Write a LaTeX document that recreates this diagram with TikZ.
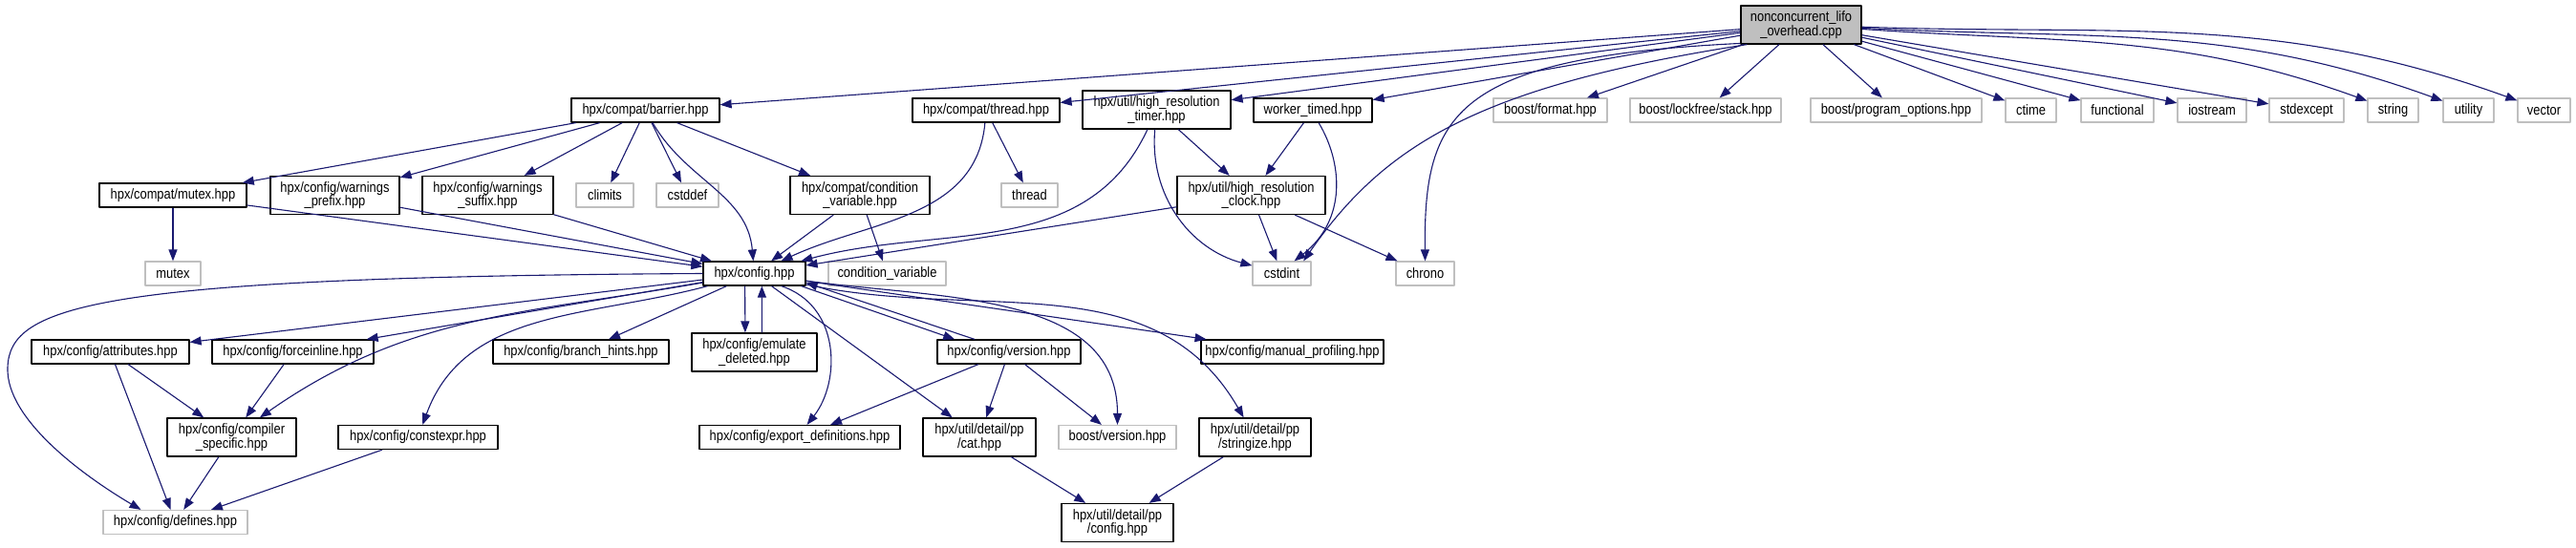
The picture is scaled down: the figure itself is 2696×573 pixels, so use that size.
\documentclass[tikz,border=0pt]{standalone}
\usepackage{fontspec}
\usepackage{tikz}
\usetikzlibrary{arrows.meta}
\newfontfamily\graphfont[FakeStretch=0.86]{Liberation Sans}
\definecolor{depblue}{RGB}{25,25,112}
\definecolor{sysgray}{RGB}{191,191,191}

\begin{document}
\begin{tikzpicture}[x=1pt,y=1pt,>={Triangle[length=12pt,width=9pt]},line join=round,
 hdr/.style={draw=black,fill=white,line width=1.2pt,minimum height=25pt,inner sep=1pt,
  align=center,font=\graphfont\fontsize{15}{14.5}\selectfont},
 sys/.style={hdr,draw=sysgray},
 twoline/.style={minimum height=40pt},
 dep/.style={->,depblue,line width=1.1pt}]
% Graf dolaczanych naglowkow dla nonconcurrent_lifo_overhead.cpp.
\fill[white] (0,0) rectangle (2696,-573);
\useasboundingbox (0,0) rectangle (2696,-573);
\node[hdr,fill=sysgray,twoline,minimum width=126pt] (lifo) at (1885,-26)
 {nonconcurrent\_lifo\\\_overhead.cpp};
\node[hdr,minimum width=155pt] (barrier) at (675.5,-115.5) {hpx/compat/barrier.hpp};
\node[hdr,minimum width=154pt] (cthread) at (1032,-115.5) {hpx/compat/thread.hpp};
\node[hdr,twoline,minimum width=155pt] (hrtimer) at (1210.5,-115)
 {hpx/util/high\_resolution\\\_timer.hpp};
\node[hdr,minimum width=124pt] (worker) at (1374,-115.5) {worker\_timed.hpp};
\node[sys,minimum width=119pt] (bformat) at (1622.5,-115.5) {boost/format.hpp};
\node[sys,minimum width=158pt] (bstack) at (1785,-115.5) {boost/lockfree/stack.hpp};
\node[sys,minimum width=179pt] (bpo) at (1984.5,-115.5) {boost/program\_options.hpp};
\node[sys,minimum width=53pt] (ctime) at (2125.5,-115.5) {ctime};
\node[sys,minimum width=76pt] (functional) at (2216,-115.5) {functional};
\node[sys,minimum width=72pt] (iostream) at (2315,-115.5) {iostream};
\node[sys,minimum width=78pt] (stdexcept) at (2414,-115.5) {stdexcept};
\node[sys,minimum width=53pt] (string) at (2504.5,-115.5) {string};
\node[sys,minimum width=53pt] (utility) at (2583.5,-115.5) {utility};
\node[sys,minimum width=55pt] (vector) at (2662.5,-115.5) {vector};

\node[hdr,minimum width=154pt] (cmutex) at (181,-204.5) {hpx/compat/mutex.hpp};
\node[hdr,twoline,minimum width=135pt] (wprefix) at (350.5,-204.5)
 {hpx/config/warnings\\\_prefix.hpp};
\node[hdr,twoline,minimum width=137pt] (wsuffix) at (510.5,-204.5)
 {hpx/config/warnings\\\_suffix.hpp};
\node[sys,minimum width=60pt] (climits) at (633,-204.5) {climits};
\node[sys,minimum width=65pt] (cstddef) at (719.5,-204.5) {cstddef};
\node[hdr,twoline,minimum width=146pt] (ccondvar) at (900,-204.5)
 {hpx/compat/condition\\\_variable.hpp};
\node[sys,minimum width=59pt] (thread) at (1077.5,-204.5) {thread};
\node[hdr,twoline,minimum width=155pt] (hrclock) at (1309.5,-204.5)
 {hpx/util/high\_resolution\\\_clock.hpp};

\node[sys,minimum width=58pt] (mutex) at (181,-286.5) {mutex};
\node[hdr,minimum width=107pt] (config) at (789.5,-286.5) {hpx/config.hpp};
\node[sys,minimum width=123pt] (condvar) at (928.5,-286.5) {condition\_variable};
\node[sys,minimum width=61pt] (cstdint) at (1341.5,-286.5) {cstdint};
\node[sys,minimum width=61pt] (chrono) at (1491.5,-286.5) {chrono};

\node[hdr,minimum width=165pt] (attributes) at (115.5,-368.5) {hpx/config/attributes.hpp};
\node[hdr,minimum width=169pt] (forceinline) at (306.5,-368.5) {hpx/config/forceinline.hpp};
\node[hdr,minimum width=184pt] (branch) at (608,-368.5) {hpx/config/branch\_hints.hpp};
\node[hdr,twoline,minimum width=131pt] (emulate) at (789.5,-369)
 {hpx/config/emulate\\\_deleted.hpp};
\node[hdr,minimum width=150pt] (version) at (1056,-368.5) {hpx/config/version.hpp};
\node[hdr,minimum width=191pt] (profiling) at (1352.5,-368.5)
 {hpx/config/manual\_profiling.hpp};

\node[hdr,twoline,minimum width=135pt] (compiler) at (242.5,-458)
 {hpx/config/compiler\\\_specific.hpp};
\node[hdr,minimum width=167pt] (constexpr) at (437.5,-458) {hpx/config/constexpr.hpp};
\node[hdr,minimum width=210pt] (exportdef) at (837,-458)
 {hpx/config/export\_definitions.hpp};
\node[hdr,twoline,minimum width=118pt] (ppcat) at (1025,-458) {hpx/util/detail/pp\\/cat.hpp};
\node[sys,minimum width=123pt] (bversion) at (1169.5,-458) {boost/version.hpp};
\node[hdr,twoline,minimum width=117pt] (stringize) at (1313.5,-458)
 {hpx/util/detail/pp\\/stringize.hpp};

\node[sys,minimum width=151pt] (defines) at (183.5,-547) {hpx/config/defines.hpp};
\node[hdr,twoline,minimum width=117pt] (ppconfig) at (1169.5,-547.5)
 {hpx/util/detail/pp\\/config.hpp};

\draw[dep] (lifo) -- (barrier);
\draw[dep] (lifo) -- (cthread);
\draw[dep] (lifo) -- (hrtimer);
\draw[dep] (lifo) -- (worker);
\draw[dep] (lifo.200) .. controls (1550,-90) and (1450,-150) .. (cstdint.30);
\draw[dep] (lifo.197) .. controls (1520,-60) and (1490,-120) .. (chrono.north);
\draw[dep] (lifo) -- (bformat);
\draw[dep] (lifo) -- (bstack);
\draw[dep] (lifo) -- (bpo);
\draw[dep] (lifo) -- (ctime);
\draw[dep] (lifo) -- (functional);
\draw[dep] (lifo) -- (iostream);
\draw[dep] (lifo) -- (stdexcept);
\draw[dep] (lifo) to[out=-4,in=160] (string);
\draw[dep] (lifo) to[out=-3,in=160] (utility);
\draw[dep] (lifo) to[out=-2,in=160] (vector);

\draw[dep] (barrier) -- (cmutex);
\draw[dep] (barrier) -- (wprefix);
\draw[dep] (barrier) -- (wsuffix);
\draw[dep] (barrier) -- (climits);
\draw[dep] (barrier) -- (cstddef);
\draw[dep] (barrier) -- (ccondvar);
\draw[dep] (barrier) to[out=-60,in=95] (config);
\draw[dep] (cmutex) -- (mutex);
\draw[dep] (cmutex) -- (config);
\draw[dep] (wprefix) -- (config);
\draw[dep] (wsuffix) -- (config);
\draw[dep] (ccondvar) -- (config);
\draw[dep] (ccondvar) -- (condvar);
\draw[dep] (cthread) -- (thread);
\draw[dep] (cthread) to[out=-95,in=25] (config);
\draw[dep] (hrtimer) to[out=-115,in=15] (config);
\draw[dep] (hrtimer) -- (hrclock);
\draw[dep] (hrtimer) to[out=-95,in=165] (cstdint);
\draw[dep] (worker) -- (hrclock);
\draw[dep] (worker.-65) .. controls (1405,-170) and (1410,-230) .. (cstdint.45);
\draw[dep] (hrclock) -- (config);
\draw[dep] (hrclock) -- (cstdint);
\draw[dep] (hrclock) -- (chrono);

\draw[dep] (config) -- (attributes);
\draw[dep] (config) -- (forceinline);
\draw[dep] (config) to[out=190,in=35] (compiler);
\draw[dep] (config.west) .. controls (100,-290) and (10,-320) .. (8,-385)
 .. controls (6,-440) and (90,-500) .. (defines.160);
\draw[dep] (config) -- (branch);
\draw[dep] (config.-127) -- (emulate.115);
\draw[dep] (emulate.69) -- (config.-59);
\draw[dep] (config) to[out=195,in=70] (constexpr);
\draw[dep] (config.-25) .. controls (880,-320) and (880,-400) .. (exportdef.60);
\draw[dep] (config) -- (ppcat);
\draw[dep] (config.-15) -- (version.167);
\draw[dep] (version.160) -- (config.-10);
\draw[dep] (config) to[out=-8,in=90] (bversion);
\draw[dep] (config) to[out=-12,in=120] (stringize);
\draw[dep] (config) -- (profiling);

\draw[dep] (attributes) -- (compiler);
\draw[dep] (attributes) -- (defines);
\draw[dep] (forceinline) -- (compiler);
\draw[dep] (compiler) -- (defines);
\draw[dep] (constexpr) -- (defines);
\draw[dep] (version) -- (exportdef);
\draw[dep] (version) -- (ppcat);
\draw[dep] (version) -- (bversion);
\draw[dep] (ppcat) -- (ppconfig);
\draw[dep] (stringize) -- (ppconfig);
\end{tikzpicture}
\end{document}
